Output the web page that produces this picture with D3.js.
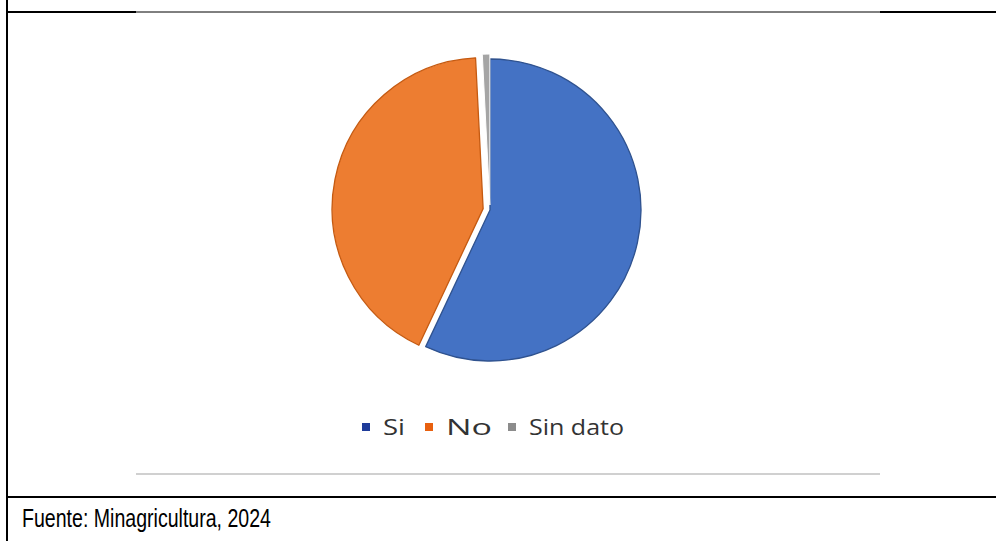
<!DOCTYPE html>
<html>
<head>
<meta charset="utf-8">
<script src="https://cdn.jsdelivr.net/npm/d3@7"></script>
<style>
  html, body { margin: 0; padding: 0; background: #fff; }
  svg { display: block; }
</style>
</head>
<body>
<svg id="chart" width="996" height="541"></svg>
<script>
// Data
const categories = ["Si", "No", "Sin dato"];
const values = [57.0, 42.2, 0.8];
const colors = ["#4472C4", "#ED7D31", "#A5A5A5"];
const legendColors = ["#1F3C9A", "#E8600F", "#8C8C8C"];
const strokeColors = ["#2F528F", "#C55A11", "#FFFFFF"];
const explode = [0, 7, 5];
const legendWidths = [22, 46, 95];
const sourceText = "Fuente: Minagricultura, 2024";

const svg = d3.select("#chart");

// Frame lines
svg.append("line").attr("x1", 7).attr("x2", 7).attr("y1", 0).attr("y2", 541)
  .attr("stroke", "#000").attr("stroke-width", 2);
svg.append("line").attr("x1", 7).attr("x2", 996).attr("y1", 12).attr("y2", 12)
  .attr("stroke", "#000").attr("stroke-width", 1);
svg.append("line").attr("x1", 7).attr("x2", 136).attr("y1", 12).attr("y2", 12)
  .attr("stroke", "#000").attr("stroke-width", 2);
svg.append("line").attr("x1", 880).attr("x2", 996).attr("y1", 12).attr("y2", 12)
  .attr("stroke", "#000").attr("stroke-width", 2);
svg.append("line").attr("x1", 136).attr("x2", 880).attr("y1", 474).attr("y2", 474)
  .attr("stroke", "#D0D0D0").attr("stroke-width", 2);
svg.append("line").attr("x1", 7).attr("x2", 996).attr("y1", 497).attr("y2", 497)
  .attr("stroke", "#000").attr("stroke-width", 2);

// Pie
const cx = 490, cy = 210, r = 151;
const pie = d3.pie().sort(null).value(d => d.v).startAngle(0).endAngle(2 * Math.PI);
const arcs = pie(categories.map((c, i) => ({ c, v: values[i], i })));
const arc = d3.arc().innerRadius(0).outerRadius(r);

const g = svg.append("g").attr("transform", `translate(${cx},${cy})`);
g.selectAll("path").data(arcs).join("path")
  .attr("d", arc)
  .attr("transform", d => {
    const mid = (d.startAngle + d.endAngle) / 2;
    const o = explode[d.data.i];
    return `translate(${o * Math.sin(mid)},${-o * Math.cos(mid)})`;
  })
  .attr("fill", d => colors[d.data.i])
  .attr("stroke", d => strokeColors[d.data.i])
  .attr("stroke-width", d => d.data.i === 2 ? 1 : 1.3)
  .attr("stroke-linejoin", "round");

// Legend
const legendX = [366, 429, 512];
const legend = svg.append("g");
categories.forEach((c, i) => {
  legend.append("rect")
    .attr("x", legendX[i] - 4).attr("y", 423).attr("width", 8).attr("height", 8)
    .attr("fill", legendColors[i]);
  legend.append("text")
    .attr("x", legendX[i] + 17).attr("y", 435)
    .attr("font-family", "Open Sans, sans-serif")
    .attr("font-size", 22)
    .attr("fill", "#333")
    .attr("textLength", legendWidths[i])
    .attr("lengthAdjust", "spacingAndGlyphs")
    .text(c);
});

// Source
svg.append("text")
  .attr("x", 22).attr("y", 527)
  .attr("font-family", "Liberation Sans, Arial, sans-serif")
  .attr("font-size", 25)
  .attr("fill", "#000")
  .attr("textLength", 249)
  .attr("lengthAdjust", "spacingAndGlyphs")
  .text(sourceText);
</script>
</body>
</html>
